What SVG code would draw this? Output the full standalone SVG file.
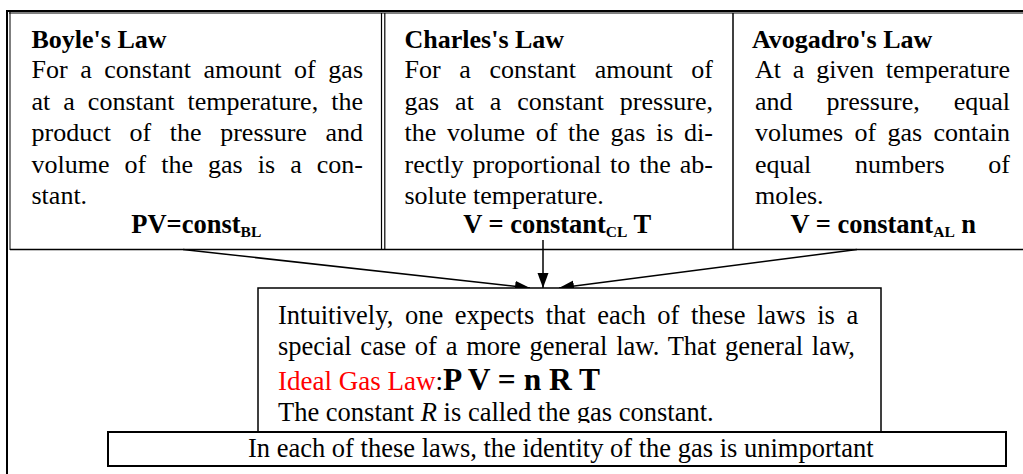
<svg xmlns="http://www.w3.org/2000/svg" width="1023" height="474" viewBox="0 0 1023 474">
<style>
text{font-family:"Liberation Serif","Times New Roman",serif;fill:#000}
.b{font-size:26px}
.t{font-size:26px;font-weight:bold}
.f{font-size:26.5px;font-weight:bold}
.s{font-size:15.5px;font-weight:bold}
.c{font-size:26.5px}
.ln{stroke:#000;fill:none}
.box{stroke:#000;stroke-width:1.5;fill:#fff}
.con{stroke:#000;stroke-width:1.5;fill:none;marker-end:url(#ah)}
</style>
<defs>
<marker id="ah" markerWidth="16" markerHeight="12" refX="15" refY="5.5" orient="auto" markerUnits="userSpaceOnUse"><path d="M0,0 L15,5.5 L0,11 z" fill="#000"/></marker>
<clipPath id="clipc"><rect x="258" y="288" width="623" height="135"/></clipPath>
</defs>
<rect width="1023" height="474" fill="#fff"/>
<g id="frame">
<line class="ln" x1="6" y1="11" x2="1023" y2="11" stroke-width="2"/>
<line class="ln" x1="9" y1="13" x2="1023" y2="13" stroke-width="1"/>
<line class="ln" x1="7" y1="10" x2="7" y2="474" stroke-width="2"/>
<line class="ln" x1="10" y1="12" x2="10" y2="250" stroke-width="1"/>
<line class="ln" x1="10" y1="249.5" x2="1023" y2="249.5" stroke-width="1.5"/>
<line class="ln" x1="381.5" y1="13" x2="381.5" y2="249" stroke-width="1.2"/>
<line class="ln" x1="384.8" y1="13" x2="384.8" y2="249" stroke-width="1.2"/>
<line class="ln" x1="733" y1="13" x2="733" y2="249" stroke-width="1.5"/>
</g>
<g id="boyle">
<text class="t" x="31.5" y="48">Boyle's Law</text>
<text class="b" x="31.5" y="77.5" word-spacing="6.08">For a constant amount of gas</text>
<text class="b" x="31.5" y="109.5" word-spacing="6.52">at a constant temperature, the</text>
<text class="b" x="31.5" y="141" word-spacing="12.12">product of the pressure and</text>
<text class="b" x="31.5" y="172.8" word-spacing="8.55">volume of the gas is a con-</text>
<text class="b" x="31.5" y="204">stant.</text>
<text class="f" x="196.3" y="233" text-anchor="middle">PV=const<tspan class="s" dy="4">BL</tspan></text>
</g>
<g id="charles">
<text class="t" x="404.5" y="48">Charles's Law</text>
<text class="b" x="404.5" y="77.5" word-spacing="12.13">For a constant amount of</text>
<text class="b" x="404.5" y="109.5" word-spacing="9.43">gas at a constant pressure,</text>
<text class="b" x="404.5" y="141" word-spacing="4.23">the volume of the gas is di-</text>
<text class="b" x="404.5" y="172.8" word-spacing="2.4">rectly proportional to the ab-</text>
<text class="b" x="404.5" y="204">solute temperature.</text>
<text class="f" x="557.2" y="233" text-anchor="middle">V = constant<tspan class="s" dy="4">CL</tspan><tspan dy="-4"> T</tspan></text>
</g>
<g id="avogadro">
<text class="t" x="752" y="48">Avogadro's Law</text>
<text class="b" x="755" y="77.5" word-spacing="5.33">At a given temperature</text>
<text class="b" x="755" y="109.5" word-spacing="27.5">and pressure, equal</text>
<text class="b" x="755" y="141" word-spacing="4.83">volumes of gas contain</text>
<text class="b" x="755" y="172.8" word-spacing="37.25">equal numbers of</text>
<text class="b" x="755" y="204">moles.</text>
<text class="f" x="883.3" y="233" text-anchor="middle">V = constant<tspan class="s" dy="4">AL</tspan><tspan dy="-4"> n</tspan></text>
</g>
<g id="connectors">
<line class="con" x1="183" y1="249.5" x2="530" y2="288"/>
<line class="con" x1="543" y1="240" x2="543" y2="288"/>
<line class="con" x1="857" y1="249.5" x2="559" y2="288"/>
</g>
<g id="general">
<rect class="box" x="258" y="288" width="623" height="150"/>
<g clip-path="url(#clipc)">
<text class="c" x="278" y="324" word-spacing="4.97">Intuitively, one expects that each of these laws is a</text>
<text class="c" x="278" y="355" word-spacing="2.17">special case of a more general law. That general law,</text>
<text x="278" y="389.5"><tspan font-size="27" fill="#ff0000">Ideal Gas Law</tspan><tspan font-size="27">:</tspan><tspan font-size="31.5" font-weight="bold">P V = n R T</tspan></text>
<text class="c" x="278" y="421">The constant <tspan font-style="italic">R</tspan> is called the gas constant.</text>
</g>
</g>
<g id="note">
<rect x="108" y="432" width="898" height="34" fill="#fff" stroke="#000" stroke-width="2"/>
<text class="c" x="248" y="457" font-size="26.6">In each of these laws, the identity of the gas is unimportant</text>
</g>
</svg>
